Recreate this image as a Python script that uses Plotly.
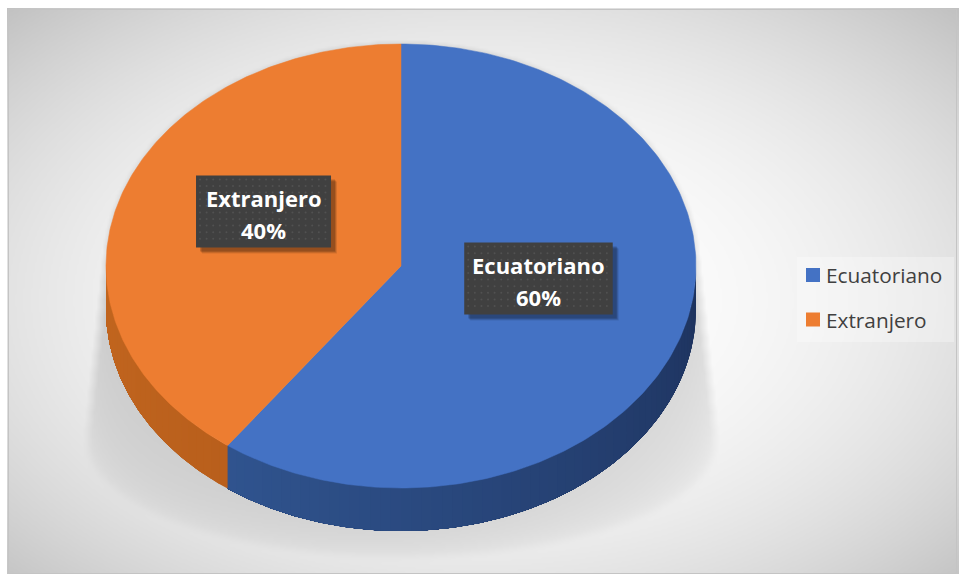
import numpy as np
import plotly.graph_objects as go

# ---- data -------------------------------------------------------------
categories = ["Ecuatoriano", "Extranjero"]
values = [60, 40]

# ---- styling ----------------------------------------------------------
top_colors = ["#4472C4", "#ED7D31"]
side_left = ["#30548f", "#c2661f"]
side_right = ["#1d325d", "#b95f1c"]
FONT = "Open Sans"

W, H = 960, 581
FRAME = (8, 9, 957, 573)              # chart area border
CX, CY, RX, RY, DEPTH = 401, 266, 295, 222, 43


def hex_rgb(h):
    h = h.lstrip("#")
    return np.array([int(h[i:i + 2], 16) for i in (0, 2, 4)], float)


def mix(c0, c1, f):
    c = hex_rgb(c0) * (1 - f) + hex_rgb(c1) * f
    return "rgb(%d,%d,%d)" % tuple(np.round(c))


def ellipse_pt(theta, cy=CY):
    t = np.radians(theta)
    return CX + RX * np.sin(t), cy - RY * np.cos(t)


def box_blur(a, r):
    p = np.pad(a, r, mode="edge")
    out = np.zeros_like(a)
    for dy in range(2 * r + 1):
        for dx in range(2 * r + 1):
            out += p[dy:dy + a.shape[0], dx:dx + a.shape[1]]
    return out / (2 * r + 1) ** 2


fig = go.Figure()

# ---- background: radial grey gradient plus the soft pie shadow ---------
step = 2
xs = np.arange(FRAME[0], FRAME[2] + step, step)
ys = np.arange(FRAME[1], FRAME[3] + step, step)
X, Y = np.meshgrid(xs, ys)
d = np.sqrt(((X - 480) / 620) ** 2 + ((Y - 300) / 380) ** 2)
bright = 255 - 52 * d ** 2.2
dark = np.zeros_like(bright)
for t in np.linspace(1, 0, 300):
    ecy = CY + 178 * t
    erx = RX + 20 * t
    ery = RY - 108 * t
    inside = ((X - CX) / erx) ** 2 + ((Y - ecy) / ery) ** 2 <= 1
    dark = np.where(inside, np.maximum(dark, 36 * (1 - t) ** 0.5), dark)
dark = box_blur(dark, 2)
z = np.clip(np.round(bright - dark), 0, 255)

fig.add_trace(go.Heatmap(
    x=xs, y=ys, z=z, zmin=0, zmax=255, zsmooth="best",
    colorscale=[[0, "rgb(0,0,0)"], [1, "rgb(255,255,255)"]],
    showscale=False, hoverinfo="skip"))

# ---- slice angles (clockwise from 12 o'clock) --------------------------
total = float(sum(values))
ends = np.cumsum(values) / total * 360.0
starts = np.concatenate([[0.0], ends[:-1]])

# ---- side walls (front half of the disc only) --------------------------
# Shaded by stacking ever shorter bands anchored at the left end, so the
# colour steps never leave a seam between neighbouring polygons.
for i, (a0, a1) in enumerate(zip(starts, ends)):
    lo, hi = max(a0, 90.0), min(a1, 270.0)
    if hi <= lo:
        continue
    n = max(int(np.ceil((hi - lo) / 2.0)), 1)
    edges = np.linspace(lo, hi, n + 1)
    for k in range(n):
        s0 = edges[k]
        th = np.linspace(s0, hi, max(int((hi - s0) * 2), 4))
        tx, ty = ellipse_pt(th)
        bx, by = ellipse_pt(th[::-1], CY + DEPTH)
        frac = (hi - s0) / (hi - lo)
        col = mix(side_left[i], side_right[i], frac)
        fig.add_trace(go.Scatter(
            x=np.concatenate([tx, bx]), y=np.concatenate([ty, by]),
            mode="lines", fill="toself", fillcolor=col,
            line=dict(width=0), hoverinfo="skip"))

# ---- top faces ---------------------------------------------------------
for i, (a0, a1) in enumerate(zip(starts, ends)):
    th = np.linspace(a0, a1, 240)
    ex, ey = ellipse_pt(th)
    fig.add_trace(go.Scatter(
        x=np.concatenate([[CX], ex, [CX]]), y=np.concatenate([[CY], ey, [CY]]),
        mode="lines", fill="toself", fillcolor=top_colors[i],
        line=dict(color=top_colors[i], width=0.5), hoverinfo="skip",
        name=categories[i]))

# ---- data labels: dark callouts with name and percentage ---------------
annotations = []
for i, (a0, a1) in enumerate(zip(starts, ends)):
    mid = 0.5 * (a0 + a1)
    t = np.radians(mid)
    lx = CX + 0.49 * RX * np.sin(t)
    ly = CY - 0.49 * RY * np.cos(t) - 18.5
    pct = "%d%%" % round(values[i] / total * 100)
    bw = 13.5 * len(categories[i])
    bh = 72
    x0, x1 = lx - bw / 2, lx + bw / 2
    y0, y1 = ly - 2.5 - bh / 2, ly - 2.5 + bh / 2
    # soft drop shadow
    for off, alpha in ((6, 0.10), (5, 0.14), (4, 0.18)):
        fig.add_trace(go.Scatter(
            x=[x0 + off, x1 + off, x1 + off, x0 + off, x0 + off],
            y=[y0 + off, y0 + off, y1 + off, y1 + off, y0 + off],
            mode="lines", fill="toself", fillcolor="rgba(0,0,0,%.2f)" % alpha,
            line=dict(width=0), hoverinfo="skip"))
    fig.add_trace(go.Scatter(
        x=[x0, x1, x1, x0, x0], y=[y0, y0, y1, y1, y0],
        mode="lines", fill="toself", fillcolor="#404040",
        line=dict(width=0), hoverinfo="skip"))
    gx = np.arange(x0 + 4, x1 - 2, 6.6)
    gy = np.arange(y0 + 4, y1 - 2, 6.6)
    DX, DY = np.meshgrid(gx, gy)
    fig.add_trace(go.Scatter(
        x=DX.ravel(), y=DY.ravel(), mode="markers",
        marker=dict(size=2, color="#515151", line=dict(width=0)),
        hoverinfo="skip"))
    annotations.append(dict(
        x=lx, y=ly - 16, text=categories[i], showarrow=False,
        font=dict(family=FONT, size=22, color="white", weight=700)))
    annotations.append(dict(
        x=lx, y=ly + 16, text=pct, showarrow=False,
        font=dict(family=FONT, size=22, color="white", weight=700)))

# ---- legend ------------------------------------------------------------
LEG_X0, LEG_Y0, LEG_X1, LEG_Y1 = 797, 257, 954, 342
fig.add_trace(go.Scatter(
    x=[LEG_X0, LEG_X1, LEG_X1, LEG_X0, LEG_X0],
    y=[LEG_Y0, LEG_Y0, LEG_Y1, LEG_Y1, LEG_Y0],
    mode="lines", fill="toself", fillcolor="rgba(255,255,255,0.3)",
    line=dict(width=0), hoverinfo="skip"))
for i, name in enumerate(categories):
    yy = 275 + i * 44.5
    fig.add_trace(go.Scatter(
        x=[813], y=[yy], mode="markers",
        marker=dict(symbol="square", size=14, color=top_colors[i],
                    line=dict(width=0)),
        hoverinfo="skip"))
    annotations.append(dict(
        x=824, y=yy, xanchor="left", text=name, showarrow=False,
        font=dict(family=FONT, size=20.8, color="#404040")))

fig.update_layout(
    width=W, height=H, margin=dict(l=0, r=0, t=0, b=0),
    paper_bgcolor="white", plot_bgcolor="white", showlegend=False,
    xaxis=dict(range=[0, W], visible=False, fixedrange=True),
    yaxis=dict(range=[H, 0], visible=False, fixedrange=True),
    annotations=annotations,
    shapes=[dict(type="rect", xref="x", yref="y",
                 x0=FRAME[0] + 0.5, y0=FRAME[1] + 0.5,
                 x1=FRAME[2] - 0.5, y1=FRAME[3] + 0.5,
                 line=dict(color="#c4c4c4", width=1),
                 fillcolor="rgba(0,0,0,0)", layer="above")],
)

fig.write_html("out.html")
